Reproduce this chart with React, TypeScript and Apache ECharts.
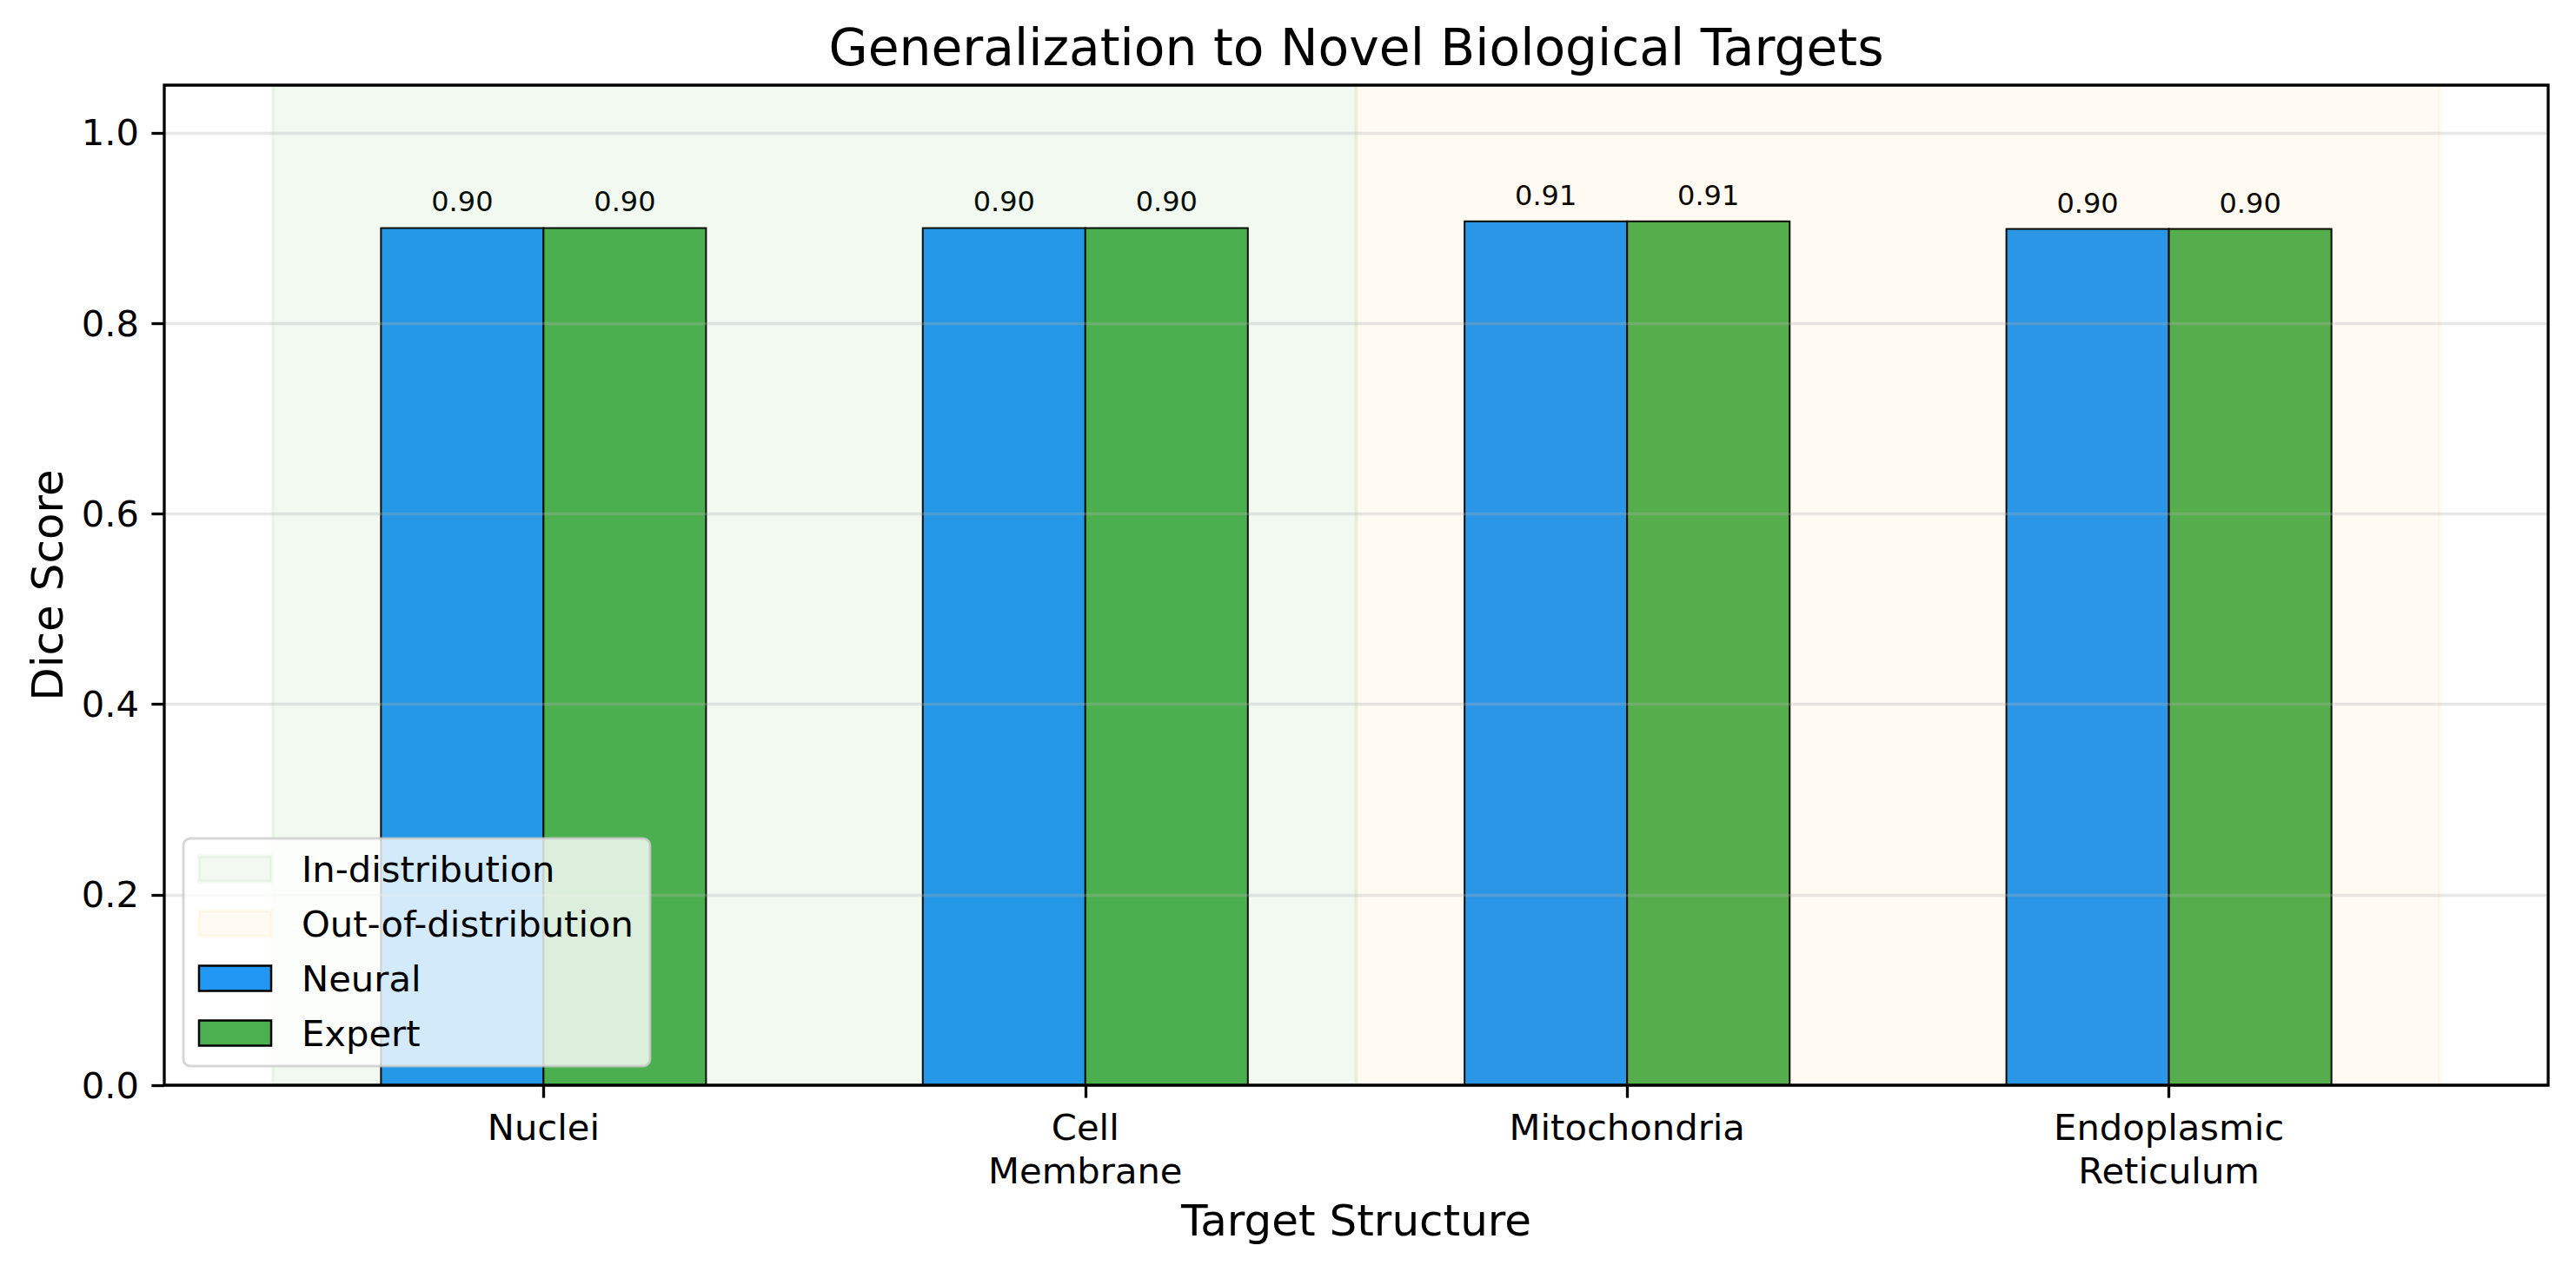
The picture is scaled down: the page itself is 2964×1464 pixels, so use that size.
import React, { useEffect, useRef } from "react";
import * as echarts from "echarts";

// ---- data ----
const categories = ["Nuclei", "Cell\nMembrane", "Mitochondria", "Endoplasmic\nReticulum"];
const categoryIndex = [0, 1, 2, 3];
const neuralScores = [0.9, 0.9, 0.907, 0.899];
const expertScores = [0.9, 0.9, 0.907, 0.899];
const regionNames = ["In-distribution", "Out-of-distribution"];
const regionStarts = [-0.5, 1.5];
const regionEnds = [1.5, 3.5];
const yTicks = [0, 0.2, 0.4, 0.6, 0.8, 1.0];

const titleText = "Generalization to Novel Biological Targets";
const xLabelText = "Target Structure";
const yLabelText = "Dice Score";

// ---- styles ----
const FONT = "DejaVu Sans";
const W = 2964;
const H = 1464;
const GRID = { left: 189, top: 98, right: 2932, bottom: 1249 };
const X_MIN = -0.7;
const X_MAX = 3.7;
const Y_MIN = 0;
const Y_MAX = 1.05;
const BAR_W = 0.3;
const NEURAL_COLOR = "#2196F3";
const EXPERT_COLOR = "#4CAF50";
const REGION_COLORS = ["rgba(76,175,80,0.08)", "rgba(255,152,0,0.05)"];

function barSeries(name: string, values: number[], color: string, offset: number) {
  return {
    name,
    type: "custom",
    z: 2,
    data: categoryIndex.map((c, i) => [c, values[i]]),
    itemStyle: { color },
    renderItem: (params: any, api: any) => {
      const idx = api.value(0);
      const v = api.value(1);
      const p0 = api.coord([idx + offset, v]);
      const p1 = api.coord([idx + offset + BAR_W, 0]);
      const cx = (p0[0] + p1[0]) / 2;
      return {
        type: "group",
        children: [
          {
            type: "rect",
            shape: { x: p0[0], y: p0[1], width: p1[0] - p0[0], height: p1[1] - p0[1] },
            style: { fill: color, stroke: "#000", lineWidth: 2 },
          },
          {
            type: "text",
            z2: 20,
            style: {
              text: v.toFixed(2),
              x: cx,
              y: p0[1] - 30,
              textAlign: "center",
              textVerticalAlign: "middle",
              align: "center",
              verticalAlign: "middle",
              fontSize: 32,
              fontFamily: FONT,
              fill: "#000",
            },
          },
        ],
      };
    },
  };
}

function regionSeries(i: number) {
  const color = REGION_COLORS[i];
  return {
    name: regionNames[i],
    type: "custom",
    z: 3,
    silent: true,
    itemStyle: { color },
    data: [[regionStarts[i], regionEnds[i]]],
    renderItem: (params: any, api: any) => {
      const p0 = api.coord([api.value(0), Y_MAX]);
      const p1 = api.coord([api.value(1), Y_MIN]);
      return {
        type: "rect",
        shape: { x: p0[0], y: p0[1], width: p1[0] - p0[0], height: p1[1] - p0[1] },
        style: { fill: color, stroke: color, lineWidth: 4 },
      };
    },
  };
}

export default function App() {
  const ref = useRef<HTMLDivElement>(null);
  useEffect(() => {
    document.body.style.margin = "0";
    if (!ref.current) return;
    const chart = echarts.init(ref.current, undefined, { renderer: "svg" });
    const option: any = {
      animation: false,
      backgroundColor: "#fff",
      textStyle: { fontFamily: FONT },
      grid: {
        left: GRID.left,
        top: GRID.top,
        width: GRID.right - GRID.left,
        height: GRID.bottom - GRID.top,
        show: true,
        borderColor: "#000",
        borderWidth: 3.3,
        backgroundColor: "transparent",
        z: 5,
      },
      xAxis: {
        type: "value",
        min: X_MIN,
        max: X_MAX,
        z: 4,
        splitLine: { show: false },
        axisLine: { show: false, onZero: false },
        axisTick: {
          show: true,
          customValues: categoryIndex,
          length: 14.6,
          lineStyle: { color: "#000", width: 3.3 },
        },
        axisLabel: {
          customValues: categoryIndex,
          formatter: (v: number) => categories[Math.round(v)] ?? "",
          margin: 23,
          fontSize: 41.7,
          lineHeight: 50,
          fontFamily: FONT,
          color: "#000",
          align: "center",
          verticalAlign: "top",
        },
      },
      yAxis: {
        type: "value",
        min: Y_MIN,
        max: Y_MAX,
        interval: 0.2,
        z: 4,
        axisLine: { show: false, onZero: false },
        splitLine: { show: true, lineStyle: { color: "rgba(176,176,176,0.3)", width: 3.3 } },
        axisTick: {
          show: true,
          customValues: yTicks,
          length: 14.6,
          lineStyle: { color: "#000", width: 3.3 },
        },
        axisLabel: {
          customValues: yTicks,
          formatter: (v: number) => v.toFixed(1),
          margin: 29,
          fontSize: 41.7,
          fontFamily: FONT,
          color: "#000",
        },
      },
      legend: {
        orient: "vertical",
        left: 211,
        top: 965,
        z: 6,
        selectedMode: false,
        padding: [14, 19, 17, 16],
        itemGap: 21,
        itemWidth: 83,
        itemHeight: 29,
        icon: "rect",
        backgroundColor: "rgba(255,255,255,0.8)",
        borderColor: "rgba(204,204,204,0.8)",
        borderWidth: 3,
        borderRadius: 8,
        textStyle: {
          fontSize: 41.7,
          fontFamily: FONT,
          color: "#000",
          lineHeight: 42,
          padding: [0, 0, 0, 30],
        },
        data: [
          { name: regionNames[0], itemStyle: { color: REGION_COLORS[0], borderColor: REGION_COLORS[0], borderWidth: 4 } },
          { name: regionNames[1], itemStyle: { color: REGION_COLORS[1], borderColor: REGION_COLORS[1], borderWidth: 4 } },
          { name: "Neural", itemStyle: { color: NEURAL_COLOR, borderColor: "#000", borderWidth: 2.5 } },
          { name: "Expert", itemStyle: { color: EXPERT_COLOR, borderColor: "#000", borderWidth: 2.5 } },
        ],
      },
      graphic: [
        {
          type: "text",
          x: (GRID.left + GRID.right) / 2,
          y: 55,
          style: {
            text: titleText,
            fontSize: 58.3,
            fontFamily: FONT,
            fill: "#000",
            align: "center",
            verticalAlign: "middle",
          },
        },
        {
          type: "text",
          x: (GRID.left + GRID.right) / 2,
          y: 1405,
          style: {
            text: xLabelText,
            fontSize: 50,
            fontFamily: FONT,
            fill: "#000",
            align: "center",
            verticalAlign: "middle",
          },
        },
        {
          type: "text",
          x: 55,
          y: (GRID.top + GRID.bottom) / 2,
          rotation: Math.PI / 2,
          style: {
            text: yLabelText,
            fontSize: 50,
            fontFamily: FONT,
            fill: "#000",
            align: "center",
            verticalAlign: "middle",
          },
        },
      ],
      series: [
        barSeries("Neural", neuralScores, NEURAL_COLOR, -BAR_W),
        barSeries("Expert", expertScores, EXPERT_COLOR, 0),
        regionSeries(0),
        regionSeries(1),
      ],
    };
    chart.setOption(option);
    return () => chart.dispose();
  }, []);
  return <div ref={ref} style={{ position: "absolute", left: 0, top: 0, width: W, height: H }} />;
}
